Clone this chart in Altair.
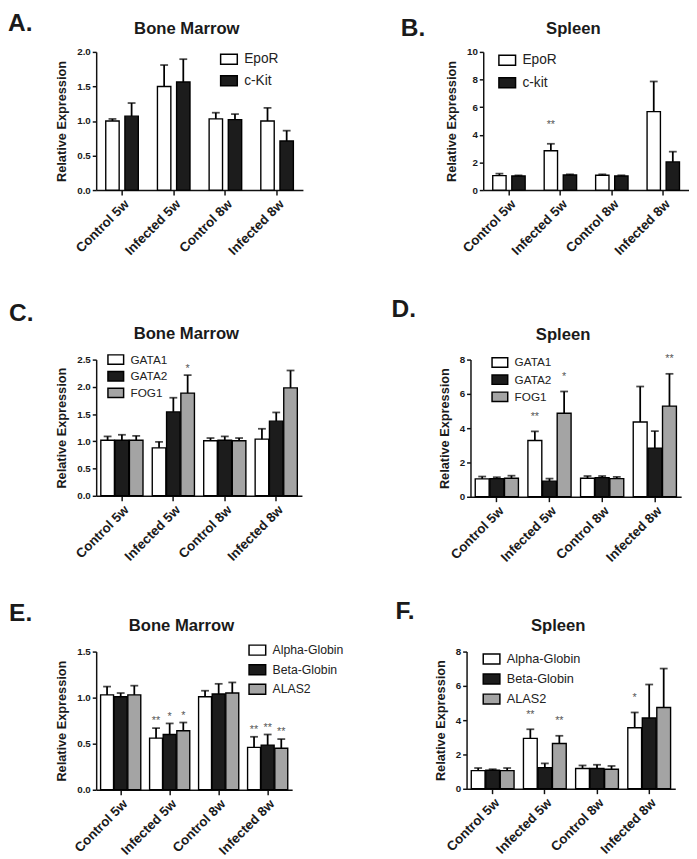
import altair as alt
import pandas as pd

FONT = "Liberation Sans"
GROUPS = ["Control 5w", "Infected 5w", "Control 8w", "Infected 8w"]

# ---- Panel A: Bone Marrow (EpoR / c-Kit)
A_SERIES = ["EpoR", "c-Kit"]
A_MEAN = [[1.00, 1.50, 1.03, 1.00], [1.07, 1.565, 1.02, 0.71]]
A_ERR = [[0.03, 0.31, 0.09, 0.19], [0.19, 0.33, 0.08, 0.15]]
A_STARS = []

# ---- Panel B: Spleen (EpoR / c-kit)
B_SERIES = ["EpoR", "c-kit"]
B_MEAN = [[1.05, 2.85, 1.07, 5.68], [1.02, 1.09, 1.02, 2.04]]
B_ERR = [[0.14, 0.50, 0.07, 2.18], [0.05, 0.05, 0.05, 0.74]]
B_STARS = [("Infected 5w", "EpoR", "**")]

# ---- Panel C: Bone Marrow (GATA1 / GATA2 / FOG1)
C_SERIES = ["GATA1", "GATA2", "FOG1"]
C_MEAN = [[1.02, 0.88, 1.01, 1.04], [1.02, 1.54, 1.02, 1.37], [1.02, 1.885, 1.01, 1.98]]
C_ERR = [[0.07, 0.11, 0.05, 0.19], [0.10, 0.26, 0.07, 0.16], [0.08, 0.33, 0.05, 0.32]]
C_STARS = [("Infected 5w", "FOG1", "*")]

# ---- Panel D: Spleen (GATA1 / GATA2 / FOG1)
D_SERIES = ["GATA1", "GATA2", "FOG1"]
D_MEAN = [[1.04, 3.28, 1.08, 4.36], [1.06, 0.91, 1.12, 2.84], [1.08, 4.87, 1.06, 5.29]]
D_ERR = [[0.14, 0.53, 0.13, 2.07], [0.08, 0.15, 0.09, 0.99], [0.15, 1.27, 0.10, 1.88]]
D_STARS = [("Infected 5w", "GATA1", "**"), ("Infected 5w", "FOG1", "*"), ("Infected 8w", "FOG1", "**")]

# ---- Panel E: Bone Marrow (Alpha-Globin / Beta-Globin / ALAS2)
E_SERIES = ["Alpha-Globin", "Beta-Globin", "ALAS2"]
E_MEAN = [[1.03, 0.56, 1.01, 0.46], [1.01, 0.60, 1.04, 0.485], [1.03, 0.64, 1.05, 0.45]]
E_ERR = [[0.09, 0.11, 0.065, 0.115], [0.04, 0.12, 0.11, 0.115], [0.10, 0.09, 0.115, 0.10]]
E_STARS = [("Infected 5w", "Alpha-Globin", "**"), ("Infected 5w", "Beta-Globin", "*"),
           ("Infected 5w", "ALAS2", "*"), ("Infected 8w", "Alpha-Globin", "**"),
           ("Infected 8w", "Beta-Globin", "**"), ("Infected 8w", "ALAS2", "**")]

# ---- Panel F: Spleen (Alpha-Globin / Beta-Globin / ALAS2)
F_SERIES = ["Alpha-Globin", "Beta-Globin", "ALAS2"]
F_MEAN = [[1.06, 2.94, 1.18, 3.56], [1.08, 1.23, 1.18, 4.13], [1.06, 2.64, 1.14, 4.74]]
F_ERR = [[0.15, 0.53, 0.18, 0.89], [0.06, 0.25, 0.22, 1.95], [0.15, 0.45, 0.19, 2.27]]
F_STARS = [("Infected 5w", "Alpha-Globin", "**"), ("Infected 5w", "ALAS2", "**"),
           ("Infected 8w", "Alpha-Globin", "*")]

WHITE, BLACK, GRAY = "#ffffff", "#1c1c1c", "#a4a4a4"
RECT = "M-1,-0.6L1,-0.6L1,0.6L-1,0.6Z"
IND = dict(x="independent", y="independent", xOffset="independent", fill="independent")


def build_df(series, means, errs):
    rows = []
    for s, m, e in zip(series, means, errs):
        for g, mv, ev in zip(GROUPS, m, e):
            rows.append({"group": g, "series": s, "mean": mv, "top": mv + ev})
    return pd.DataFrame(rows)


def panel(letter, title, series, means, errs, stars, ymax, yvals, yfmt, w, h,
          leg, star_dy, letter_offset, letter_dx, title_offset, pad):
    colors = [WHITE, BLACK, GRAY][: len(series)]
    df = build_df(series, means, errs)
    tops = {(r.group, r.series): r.top for r in df.itertuples()}
    sdf = pd.DataFrame([{"group": g, "series": s, "label": l, "top": tops[(g, s)]}
                        for g, s, l in stars] or [{"group": GROUPS[0], "series": series[0], "label": "", "top": 0}])
    xdef = alt.X("group:N", sort=GROUPS, title=None,
                 scale=alt.Scale(domain=GROUPS, paddingInner=pad[0], paddingOuter=pad[0] / 2),
                 axis=alt.Axis(labelAngle=-45, labelFontSize=13.5, labelFontWeight="bold",
                               tickSize=5, labelPadding=2, domainWidth=1.5, tickWidth=1.5))
    xo = alt.XOffset("series:N", sort=series, scale=alt.Scale(domain=series, paddingInner=pad[1]))
    yscale = alt.Scale(domain=[0, ymax], nice=False, zero=True)
    yaxis = alt.Axis(values=yvals, format=yfmt, title="Relative Expression", labelFontSize=10,
                     labelFontWeight="bold", titleFontSize=13, titleFontWeight="bold",
                     tickSize=4, labelPadding=2, titlePadding=8, domainWidth=1.5, tickWidth=1.5)

    def ydef(field):
        return alt.Y(field, scale=yscale, axis=yaxis)

    bars = alt.Chart(df).mark_bar(stroke="black", strokeWidth=1.4).encode(
        x=xdef, xOffset=xo, y=ydef("mean:Q"),
        fill=alt.Fill("series:N", sort=series, scale=alt.Scale(domain=series, range=colors),
                      legend=alt.Legend(orient="none", legendX=leg[0], legendY=leg[1], title=None,
                                        symbolType=RECT, symbolSize=leg[4], symbolStrokeColor="black",
                                        symbolStrokeWidth=1.5, labelFont=FONT, labelFontSize=leg[2],
                                        labelColor="#222222", rowPadding=leg[3], labelOffset=6)))
    rules = alt.Chart(df).mark_rule(color="black", strokeWidth=1.8).encode(
        x=xdef, xOffset=xo, y=ydef("mean:Q"), y2="top:Q")
    caps = alt.Chart(df).mark_tick(color="black", thickness=1.8, size=8).encode(
        x=xdef, xOffset=xo, y=ydef("top:Q"))
    star = alt.Chart(sdf).mark_text(font=FONT, fontSize=11, color="#555555", dy=star_dy,
                                    baseline="alphabetic").encode(
        x=xdef, xOffset=xo, y=ydef("top:Q"), text="label:N")
    layer = alt.layer(bars, rules, caps, star).properties(
        width=w, height=h,
        title=alt.TitleParams(title, fontSize=17, fontWeight="bold", font=FONT, anchor="middle",
                              dx=-13, offset=title_offset, color="#1a1a1a"))
    return alt.vconcat(layer, title=alt.TitleParams(letter, anchor="start", fontSize=25, fontWeight="bold",
                                                     font=FONT, offset=letter_offset, dx=letter_dx,
                                                     color="#1a1a1a")
                       ).resolve_scale(**IND).resolve_legend(fill="independent")


pA = panel("A.", "Bone Marrow", A_SERIES, A_MEAN, A_ERR, A_STARS, 2.0, [0, 0.5, 1.0, 1.5, 2.0], ".1f",
           211, 141, (126, -2, 14, 4, 289), -12, -16, -49, 9, (0.37, 0.3))
pB = panel("B.", "Spleen", B_SERIES, B_MEAN, B_ERR, B_STARS, 10, [0, 2, 4, 6, 8, 10], "d",
           210, 141, (15, -1, 14, 5, 289), -16, -21, -46, 9, (0.37, 0.3))
pC = panel("C.", "Bone Marrow", C_SERIES, C_MEAN, C_ERR, C_STARS, 2.5, [0, 0.5, 1.0, 1.5, 2.0, 2.5], ".1f",
           210, 139, (11, -9, 12, 0, 256), -3, -1, -48, 8, (0.18, 0.05))
pD = panel("D.", "Spleen", D_SERIES, D_MEAN, D_ERR, D_STARS, 8, [0, 2, 4, 6, 8], "d",
           215, 140, (21, -6, 12, 0.5, 256), -12, 4, -48, 10, (0.18, 0.05))
pE = panel("E.", "Bone Marrow", E_SERIES, E_MEAN, E_ERR, E_STARS, 1.5, [0, 0.5, 1.0, 1.5], ".1f",
           200, 141, (155, -11, 12.5, 2, 289), -4, -9, -48, 6, (0.18, 0.05))
pF = panel("F.", "Spleen", F_SERIES, F_MEAN, F_ERR, F_STARS, 8, [0, 2, 4, 6, 8], "d",
           213, 140, (16, -2, 13, 2.5, 289), -12, -7, -40, 12, (0.18, 0.05))

row1 = alt.hconcat(pA, pB, spacing=99).resolve_scale(**IND).resolve_legend(fill="independent")
row2 = alt.hconcat(pC, pD, spacing=91).resolve_scale(**IND).resolve_legend(fill="independent")
row3 = alt.hconcat(pE, pF, spacing=52).resolve_scale(**IND).resolve_legend(fill="independent")

top_rows = alt.concat(row1, row2, columns=1, spacing=40).resolve_scale(**IND).resolve_legend(fill="independent")

chart = alt.concat(top_rows, row3, columns=1, spacing=36).resolve_scale(**IND).resolve_legend(
    fill="independent"
).properties(
    padding={"left": 0, "top": -5, "right": 0, "bottom": 0}
).configure_view(stroke=None).configure_axis(
    labelFont=FONT, titleFont=FONT, labelColor="#1a1a1a", titleColor="#1a1a1a",
    domainColor="#111111", tickColor="#111111", grid=False
)

chart.save("out.html", embed_options={"renderer": "svg", "actions": False})
